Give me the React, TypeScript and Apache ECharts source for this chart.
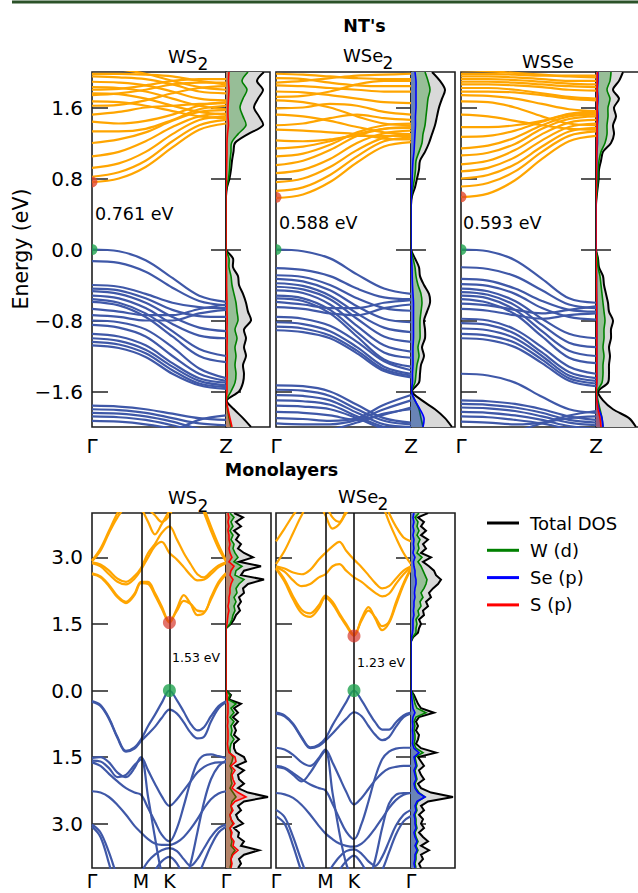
import React, { useEffect, useRef } from "react";
import * as echarts from "echarts";

// ---------------- k-paths & ticks ----------------
const ntK = [0, 0.2, 0.4, 0.6, 0.8, 1.0];
const ntPathTicks = [0, 1];
const ntPathLabels = ["Γ", "Z"];
const mlK = [0, 0.1, 0.2, 0.3, 0.4, 0.5, 0.577, 0.66, 0.74, 0.82, 0.911, 1.0, 1.08, 1.16, 1.24, 1.32, 1.4, 1.49, 1.577];
const mlPathTicks = [0, 0.577, 0.911, 1.577];
const mlPathLabels = ["Γ", "M", "K", "Γ"];
const ntEnergyTicks = [-1.6, -0.8, 0, 0.8, 1.6];
const mlEnergyTicks = [-3, -1.5, 0, 1.5, 3];

const ntGaps = [0.761, 0.588, 0.593];
const mlGaps = [1.53, 1.23];
const ntTitles = ["WS2", "WSe2", "WSSe"];
const mlTitles = ["WS2", "WSe2"];
const legendNames = ["Total DOS", "W (d)", "Se (p)", "S (p)"];

// ---------------- NT band structures (E in eV at ntK) ----------------
const ws2NtCond = [
  [0.76, 0.8, 0.93, 1.15, 1.35, 1.42],
  [0.82, 0.87, 1.0, 1.22, 1.4, 1.46],
  [0.92, 0.97, 1.1, 1.3, 1.46, 1.5],
  [1.05, 1.1, 1.22, 1.38, 1.5, 1.53],
  [1.2, 1.24, 1.32, 1.45, 1.55, 1.57],
  [1.33, 1.33, 1.36, 1.46, 1.58, 1.62],
  [1.44, 1.42, 1.45, 1.52, 1.62, 1.66],
  [1.52, 1.55, 1.6, 1.62, 1.64, 1.65],
  [1.67, 1.66, 1.62, 1.56, 1.5, 1.48],
  [1.76, 1.75, 1.7, 1.62, 1.55, 1.52],
  [1.83, 1.82, 1.78, 1.7, 1.62, 1.58],
  [1.89, 1.88, 1.85, 1.78, 1.7, 1.68],
  [1.95, 1.94, 1.92, 1.86, 1.78, 1.76],
  [1.8, 1.81, 1.85, 1.9, 1.92, 1.92],
  [1.74, 1.76, 1.8, 1.86, 1.88, 1.88],
  [1.98, 1.98, 1.97, 1.95, 1.9, 1.86],
  [1.62, 1.63, 1.68, 1.76, 1.82, 1.84],
  [2.05, 2.03, 1.98, 1.9, 1.83, 1.8],
];
const ws2NtVal = [
  [0.0, -0.02, -0.12, -0.32, -0.52, -0.59],
  [-0.13, -0.15, -0.25, -0.43, -0.58, -0.63],
  [-0.4, -0.42, -0.5, -0.6, -0.65, -0.66],
  [-0.44, -0.46, -0.55, -0.68, -0.75, -0.76],
  [-0.47, -0.5, -0.6, -0.76, -0.88, -0.92],
  [-0.52, -0.55, -0.66, -0.84, -0.97, -1.0],
  [-0.56, -0.6, -0.72, -0.92, -1.12, -1.2],
  [-0.59, -0.63, -0.76, -0.98, -1.2, -1.27],
  [-0.67, -0.7, -0.74, -0.74, -0.67, -0.62],
  [-0.74, -0.76, -0.8, -0.8, -0.72, -0.68],
  [-0.8, -0.82, -0.9, -1.1, -1.34, -1.45],
  [-0.85, -0.88, -0.98, -1.2, -1.4, -1.48],
  [-0.95, -0.98, -1.08, -1.28, -1.45, -1.5],
  [-1.0, -1.03, -1.13, -1.32, -1.48, -1.53],
  [-1.04, -1.07, -1.17, -1.36, -1.51, -1.55],
  [-1.08, -1.11, -1.21, -1.4, -1.53, -1.57],
  [-1.76, -1.77, -1.8, -1.85, -1.9, -1.92],
  [-1.8, -1.81, -1.84, -1.9, -1.96, -1.98],
  [-1.84, -1.85, -1.88, -1.94, -2.02, -2.05],
  [-1.88, -1.89, -1.92, -1.98, -2.05, -2.1],
  [-1.93, -1.94, -1.97, -2.02, -2.1, -2.15],
  [-2.2, -2.2, -2.15, -2.05, -1.92, -1.87],
];
const wse2NtCond = [
  [0.58, 0.62, 0.76, 0.98, 1.16, 1.21],
  [0.66, 0.7, 0.84, 1.05, 1.22, 1.26],
  [0.76, 0.8, 0.93, 1.12, 1.26, 1.3],
  [0.86, 0.9, 1.02, 1.2, 1.31, 1.34],
  [0.95, 1.0, 1.12, 1.28, 1.36, 1.38],
  [1.05, 1.08, 1.18, 1.32, 1.4, 1.42],
  [1.14, 1.16, 1.22, 1.3, 1.36, 1.37],
  [1.23, 1.22, 1.24, 1.28, 1.28, 1.28],
  [1.35, 1.34, 1.32, 1.3, 1.25, 1.24],
  [1.4, 1.42, 1.48, 1.52, 1.48, 1.46],
  [1.52, 1.5, 1.45, 1.38, 1.32, 1.3],
  [1.59, 1.6, 1.64, 1.62, 1.55, 1.52],
  [1.68, 1.66, 1.6, 1.5, 1.42, 1.4],
  [1.78, 1.77, 1.74, 1.7, 1.66, 1.65],
  [1.85, 1.84, 1.82, 1.8, 1.78, 1.78],
  [1.93, 1.92, 1.88, 1.85, 1.84, 1.84],
  [1.98, 1.97, 1.95, 1.93, 1.92, 1.92],
  [1.88, 1.9, 1.93, 1.96, 1.97, 1.98],
  [1.72, 1.73, 1.78, 1.86, 1.9, 1.9],
];
const wse2NtVal = [
  [0.0, -0.02, -0.1, -0.28, -0.44, -0.5],
  [-0.21, -0.23, -0.3, -0.44, -0.54, -0.56],
  [-0.29, -0.31, -0.4, -0.55, -0.66, -0.69],
  [-0.33, -0.36, -0.46, -0.64, -0.78, -0.82],
  [-0.38, -0.41, -0.52, -0.72, -0.88, -0.93],
  [-0.42, -0.45, -0.56, -0.78, -0.98, -1.04],
  [-0.46, -0.49, -0.62, -0.86, -1.08, -1.15],
  [-0.52, -0.55, -0.68, -0.93, -1.16, -1.22],
  [-0.55, -0.58, -0.72, -0.98, -1.24, -1.32],
  [-0.59, -0.62, -0.66, -0.66, -0.6, -0.57],
  [-0.65, -0.67, -0.72, -0.74, -0.66, -0.62],
  [-0.76, -0.78, -0.86, -1.04, -1.26, -1.36],
  [-0.82, -0.84, -0.92, -1.1, -1.32, -1.4],
  [-0.87, -0.89, -0.97, -1.14, -1.35, -1.42],
  [-0.91, -0.93, -1.0, -1.17, -1.37, -1.44],
  [-1.53, -1.54, -1.6, -1.75, -1.9, -1.95],
  [-1.58, -1.59, -1.65, -1.8, -1.93, -1.97],
  [-1.64, -1.65, -1.7, -1.84, -1.97, -2.0],
  [-1.7, -1.71, -1.75, -1.88, -2.0, -2.04],
  [-1.76, -1.77, -1.8, -1.9, -2.02, -2.06],
  [-1.83, -1.84, -1.87, -1.92, -1.86, -1.78],
  [-1.9, -1.91, -1.93, -1.9, -1.75, -1.64],
  [-1.96, -1.97, -1.97, -1.92, -1.8, -1.7],
  [-2.05, -2.06, -2.03, -1.95, -1.85, -1.8],
];
const wsseNtCond = [
  [0.59, 0.63, 0.78, 1.02, 1.22, 1.28],
  [0.71, 0.75, 0.88, 1.1, 1.28, 1.33],
  [0.8, 0.84, 0.96, 1.16, 1.33, 1.37],
  [0.88, 0.92, 1.04, 1.23, 1.38, 1.42],
  [0.96, 1.0, 1.12, 1.3, 1.43, 1.46],
  [1.06, 1.09, 1.19, 1.36, 1.47, 1.5],
  [1.14, 1.17, 1.26, 1.4, 1.5, 1.52],
  [1.27, 1.28, 1.34, 1.44, 1.52, 1.54],
  [1.38, 1.38, 1.4, 1.45, 1.53, 1.56],
  [1.52, 1.5, 1.45, 1.4, 1.36, 1.35],
  [1.67, 1.66, 1.6, 1.5, 1.42, 1.4],
  [1.74, 1.73, 1.7, 1.64, 1.58, 1.56],
  [1.82, 1.82, 1.8, 1.76, 1.72, 1.7],
  [1.89, 1.89, 1.88, 1.86, 1.84, 1.83],
  [1.95, 1.95, 1.94, 1.92, 1.9, 1.9],
  [1.98, 1.98, 1.97, 1.96, 1.96, 1.96],
  [1.86, 1.86, 1.85, 1.83, 1.8, 1.79],
  [1.78, 1.78, 1.77, 1.74, 1.7, 1.68],
  [1.92, 1.92, 1.91, 1.89, 1.87, 1.86],
  [2.02, 2.01, 1.99, 1.97, 1.95, 1.94],
];
const wsseNtVal = [
  [0.0, -0.02, -0.12, -0.33, -0.55, -0.6],
  [-0.2, -0.22, -0.3, -0.46, -0.62, -0.66],
  [-0.33, -0.35, -0.44, -0.58, -0.68, -0.7],
  [-0.39, -0.41, -0.5, -0.66, -0.76, -0.79],
  [-0.44, -0.47, -0.58, -0.78, -0.95, -1.0],
  [-0.48, -0.51, -0.63, -0.85, -1.05, -1.1],
  [-0.52, -0.55, -0.68, -0.92, -1.14, -1.2],
  [-0.56, -0.6, -0.73, -0.98, -1.22, -1.28],
  [-0.61, -0.63, -0.68, -0.72, -0.68, -0.64],
  [-0.67, -0.69, -0.74, -0.78, -0.74, -0.72],
  [-0.78, -0.8, -0.9, -1.1, -1.32, -1.4],
  [-0.83, -0.85, -0.95, -1.16, -1.38, -1.45],
  [-0.89, -0.91, -1.0, -1.2, -1.42, -1.48],
  [-0.95, -0.97, -1.05, -1.24, -1.45, -1.51],
  [-1.0, -1.02, -1.1, -1.28, -1.48, -1.54],
  [-1.4, -1.42, -1.5, -1.66, -1.8, -1.84],
  [-1.7, -1.71, -1.74, -1.8, -1.88, -1.92],
  [-1.74, -1.75, -1.78, -1.84, -1.92, -1.95],
  [-1.78, -1.79, -1.82, -1.88, -1.95, -1.98],
  [-1.83, -1.84, -1.87, -1.92, -1.99, -2.02],
  [-1.88, -1.89, -1.92, -1.96, -2.02, -2.05],
  [-1.94, -1.95, -1.97, -1.95, -1.87, -1.82],
  [-2.1, -2.1, -2.05, -1.96, -1.9, -1.88],
];

// ---------------- Monolayer band structures (E in eV at mlK) ----------------
const ws2MlCond = [
  [2.62, 2.55, 2.35, 2.1, 1.97, 2.15, 2.42, 2.4, 2.15, 1.85, 1.53, 1.85, 2.15, 1.95, 1.7, 1.75, 2.05, 2.4, 2.62],
  [2.64, 2.57, 2.38, 2.13, 2.0, 2.18, 2.45, 2.45, 2.2, 1.9, 1.56, 1.8, 2.02, 1.95, 1.8, 1.78, 2.1, 2.45, 2.65],
  [2.87, 2.8, 2.62, 2.45, 2.39, 2.52, 2.72, 3.0, 3.25, 3.35, 3.1, 2.95, 2.78, 2.6, 2.48, 2.5, 2.62, 2.78, 2.87],
  [2.89, 2.84, 2.7, 2.52, 2.45, 2.58, 2.76, 3.1, 3.3, 3.55, 3.7, 3.4, 3.1, 2.85, 2.62, 2.55, 2.68, 2.82, 2.89],
  [2.91, 3.15, 3.55, 3.9, 4.15, 4.2, 4.1, 3.8, 3.52, 3.75, 4.05, 4.3, 4.5, 4.6, 4.4, 4.0, 3.6, 3.2, 2.91],
  [2.93, 3.2, 3.6, 4.0, 4.3, 4.4, 4.3, 4.1, 3.95, 3.8, 3.95, 4.35, 4.6, 4.7, 4.5, 4.1, 3.7, 3.28, 2.93],
];
const ws2MlVal = [
  [-0.24, -0.33, -0.62, -1.05, -1.36, -1.28, -1.1, -0.8, -0.55, -0.28, 0.0, -0.22, -0.48, -0.75, -0.9, -0.82, -0.58, -0.35, -0.24],
  [-0.26, -0.35, -0.64, -1.07, -1.38, -1.31, -1.14, -0.98, -0.82, -0.62, -0.43, -0.52, -0.72, -0.95, -1.08, -1.04, -0.7, -0.4, -0.26],
  [-1.52, -1.5, -1.62, -1.85, -1.95, -1.75, -1.5, -1.8, -2.1, -2.38, -2.6, -2.45, -2.25, -2.05, -1.85, -1.72, -1.65, -1.62, -1.62],
  [-1.62, -1.7, -1.88, -2.05, -2.2, -2.3, -2.35, -2.65, -2.95, -3.25, -3.4, -3.1, -2.6, -2.05, -1.62, -1.46, -1.44, -1.48, -1.52],
  [-2.27, -2.3, -2.4, -2.58, -2.8, -3.05, -3.2, -3.35, -3.45, -3.48, -3.48, -3.42, -3.3, -3.12, -2.9, -2.65, -2.45, -2.32, -2.27],
  [-3.02, -3.2, -3.65, -4.2, -4.6, -4.4, -4.1, -3.85, -3.7, -3.6, -3.55, -3.62, -3.8, -3.95, -3.8, -3.55, -3.3, -3.1, -3.02],
  [-3.07, -3.3, -3.9, -4.6, -5.0, -4.8, -4.5, -4.25, -4.05, -3.85, -3.75, -3.9, -4.2, -4.4, -4.2, -3.85, -3.5, -3.2, -3.07],
  [-1.58, -1.6, -1.75, -1.95, -1.9, -1.68, -1.55, -2.4, -3.3, -4.1, -4.5, -4.6, -4.4, -3.9, -3.2, -2.5, -2.0, -1.7, -1.58],
];
const wse2MlCond = [
  [2.74, 2.45, 2.05, 1.74, 1.66, 1.85, 2.09, 1.95, 1.7, 1.46, 1.23, 1.62, 1.88, 1.62, 1.36, 1.52, 1.92, 2.38, 2.74],
  [2.76, 2.5, 2.12, 1.82, 1.74, 1.92, 2.14, 2.0, 1.74, 1.5, 1.26, 1.58, 1.8, 1.65, 1.45, 1.55, 1.98, 2.42, 2.76],
  [2.78, 2.68, 2.48, 2.35, 2.4, 2.55, 2.62, 2.8, 2.85, 2.7, 2.55, 2.45, 2.32, 2.2, 2.12, 2.18, 2.4, 2.62, 2.78],
  [2.8, 2.75, 2.66, 2.62, 2.72, 2.95, 3.1, 3.25, 3.35, 3.15, 2.95, 2.78, 2.6, 2.42, 2.3, 2.35, 2.52, 2.7, 2.8],
  [2.85, 3.15, 3.55, 3.95, 4.25, 4.2, 3.95, 3.65, 3.75, 4.0, 4.2, 4.4, 4.55, 4.5, 4.2, 3.8, 3.45, 3.1, 2.85],
  [3.36, 3.65, 3.95, 4.2, 4.4, 4.4, 4.2, 3.9, 3.8, 4.05, 4.3, 4.6, 4.7, 4.6, 4.35, 4.0, 3.7, 3.45, 3.36],
];
const wse2MlVal = [
  [-0.5, -0.56, -0.75, -1.05, -1.28, -1.22, -1.08, -0.78, -0.52, -0.26, 0.0, -0.22, -0.48, -0.72, -0.88, -0.88, -0.72, -0.56, -0.5],
  [-0.52, -0.58, -0.77, -1.07, -1.3, -1.25, -1.13, -0.97, -0.8, -0.64, -0.49, -0.58, -0.8, -1.0, -1.12, -1.05, -0.82, -0.6, -0.52],
  [-1.29, -1.33, -1.45, -1.62, -1.7, -1.52, -1.33, -1.62, -1.95, -2.28, -2.57, -2.42, -2.22, -2.02, -1.86, -1.76, -1.72, -1.7, -1.7],
  [-1.7, -1.74, -1.86, -2.0, -2.12, -2.2, -2.25, -2.55, -2.88, -3.18, -3.35, -3.0, -2.5, -1.95, -1.55, -1.38, -1.31, -1.29, -1.29],
  [-2.31, -2.34, -2.42, -2.58, -2.8, -3.05, -3.22, -3.35, -3.45, -3.5, -3.52, -3.45, -3.3, -3.1, -2.88, -2.65, -2.47, -2.35, -2.31],
  [-2.69, -2.85, -3.3, -3.85, -4.3, -4.4, -4.2, -3.95, -3.75, -3.62, -3.58, -3.68, -3.85, -3.95, -3.75, -3.4, -3.05, -2.8, -2.69],
  [-2.83, -3.0, -3.5, -4.1, -4.6, -4.8, -4.6, -4.3, -4.05, -3.85, -3.72, -3.9, -4.15, -4.3, -4.05, -3.65, -3.25, -2.95, -2.83],
  [-1.72, -1.76, -1.9, -2.05, -1.85, -1.55, -1.36, -2.3, -3.2, -3.9, -4.3, -4.5, -4.3, -3.8, -3.1, -2.55, -2.35, -2.31, -2.31],
];

// ---------------- DOS (energy grids + curves, arbitrary units) ----------------
const ntE = [-2.0, -1.9, -1.8, -1.7, -1.6, -1.5, -1.4, -1.3, -1.2, -1.1, -1.0, -0.9, -0.8, -0.7, -0.6, -0.5, -0.4, -0.3, -0.2, -0.1, 0.0, 0.1, 0.2, 0.3, 0.4, 0.5, 0.6, 0.7, 0.8, 0.9, 1.0, 1.1, 1.2, 1.3, 1.4, 1.5, 1.6, 1.7, 1.8, 1.9, 2.0];
const ws2NtTotal = [25, 17, 8, 0.7, 13, 17, 18, 17, 20, 18, 20, 18, 25, 22, 20, 17, 13, 12, 7, 7, 0, 0, 0, 0, 0, 0, 0, 1, 3.5, 5, 6, 7.5, 9, 22, 37, 33, 28, 32, 37, 31, 38];
const ws2NtW = [5, 3, 1.5, 0.3, 5, 9, 10, 9, 10, 9, 11, 9, 12, 11, 10, 8, 6, 5, 3, 3, 0, 0, 0, 0, 0, 0, 0, 0.7, 2.5, 3.5, 4, 5, 5.5, 12, 20, 17, 14, 17, 21, 16, 22];
const ws2NtS = [6, 4, 2, 0.3, 1, 1, 1.2, 1, 1.2, 1, 1.2, 1, 1.2, 1, 1, 0.8, 0.6, 0.6, 0.4, 0.4, 0, 0, 0, 0, 0, 0, 0, 0.3, 0.5, 0.6, 0.8, 1, 1, 1.5, 2.5, 2, 2, 2.5, 3, 2.5, 3];
const wse2NtTotal = [41, 34, 24, 11, 1, 8, 9, 10, 13, 11, 14, 14, 13, 16, 19, 18, 13, 9, 8, 4, 0, 0, 0, 0, 0, 0, 1, 4, 6, 8, 9, 14, 18, 21, 24, 26, 28, 31, 34, 29, 21];
const wse2NtW = [12, 10, 8, 4, 0.5, 4, 5, 6, 8, 7, 9, 9, 9, 10, 11, 10, 7, 5, 4, 2, 0, 0, 0, 0, 0, 0, 0.5, 2, 3.5, 4.5, 5, 8, 11, 12, 14, 15, 16, 17, 19, 17, 14];
const wse2NtSe = [12, 13, 9, 4, 0.5, 1.5, 1.5, 2, 2, 2, 2.5, 2.5, 2.5, 2.5, 2.5, 2, 1.5, 1.2, 1, 0.5, 0, 0, 0, 0, 0, 0, 0.3, 0.8, 1.2, 1.5, 2, 3, 3.5, 4, 4.5, 4.5, 5, 5, 5, 5, 4];
const wsseNtTotal = [40, 33, 17, 7, 2, 12, 13, 13, 14, 13, 15, 15, 17, 13, 12, 10, 8, 7, 3, 2, 0, 0, 0, 0, 0, 0, 0.7, 1.7, 2.7, 3, 5, 7, 15, 18, 17, 20, 18, 23, 17, 23, 27];
const wsseNtW = [7, 6, 4, 2, 1, 6, 7, 7, 8, 7, 8, 8, 9, 8, 7, 6, 5, 4, 2, 1.5, 0, 0, 0, 0, 0, 0, 0.5, 1.3, 2, 2.2, 3, 5, 9, 11, 11, 12, 12, 14, 11, 14, 15];
const wsseNtSe = [7, 6, 3, 1, 0.3, 0.8, 0.8, 0.8, 0.8, 0.8, 0.8, 0.8, 0.8, 0.8, 0.7, 0.6, 0.5, 0.5, 0.3, 0.2, 0, 0, 0, 0, 0, 0, 0.2, 0.4, 0.5, 0.6, 0.8, 1, 1.5, 1.5, 1.5, 2, 1.5, 2, 1.5, 2, 2];
const wsseNtS = [5, 4, 2, 0.8, 0.3, 0.8, 0.8, 0.8, 0.8, 0.8, 0.8, 0.8, 0.8, 0.7, 0.7, 0.6, 0.5, 0.5, 0.3, 0.2, 0, 0, 0, 0, 0, 0, 0.2, 0.3, 0.4, 0.5, 0.6, 0.8, 1, 1.2, 1.2, 1.3, 1.2, 1.4, 1.2, 1.4, 1.5];

const mlE = [-4.0, -3.9, -3.8, -3.7, -3.6, -3.5, -3.4, -3.3, -3.2, -3.1, -3.0, -2.9, -2.8, -2.7, -2.6, -2.5, -2.4, -2.3, -2.2, -2.1, -2.0, -1.9, -1.8, -1.7, -1.6, -1.5, -1.4, -1.3, -1.2, -1.1, -1.0, -0.9, -0.8, -0.7, -0.6, -0.5, -0.4, -0.3, -0.2, -0.1, 0.0, 0.1, 0.2, 0.3, 0.4, 0.5, 0.6, 0.7, 0.8, 0.9, 1.0, 1.1, 1.2, 1.3, 1.4, 1.5, 1.6, 1.7, 1.8, 1.9, 2.0, 2.1, 2.2, 2.3, 2.4, 2.5, 2.6, 2.7, 2.8, 2.9, 3.0, 3.1, 3.2, 3.3, 3.4, 3.5, 3.6, 3.7, 3.8, 3.9, 4.0];
const ws2MlTotal = [12, 15, 13, 18, 33, 15, 18, 12, 13, 8, 17, 12, 10, 15, 12, 18, 42, 22, 12, 18, 13, 12, 18, 10, 20, 18, 10, 8, 8, 13, 8, 10, 8, 12, 7, 12, 8, 15, 3, 5, 0, 0, 0, 0, 0, 0, 0, 0, 0, 0, 0, 0, 0, 0, 0, 5, 8, 10, 14, 12, 15, 13, 18, 17, 22, 38, 15, 18, 35, 13, 27, 18, 12, 15, 10, 13, 8, 15, 10, 17, 8];
const ws2MlW = [4, 5, 5, 6, 9, 5, 6, 5, 5, 4, 7, 5, 4, 6, 5, 6, 10, 7, 4, 6, 5, 5, 6, 4, 6, 7, 4, 4, 5, 8, 5, 6, 5, 8, 4, 8, 5, 10, 2, 4, 0, 0, 0, 0, 0, 0, 0, 0, 0, 0, 0, 0, 0, 0, 0, 4, 6, 7, 9, 8, 10, 8, 11, 10, 13, 18, 9, 10, 16, 8, 12, 9, 7, 8, 5, 7, 4, 7, 5, 8, 4];
const ws2MlS = [5, 6, 5, 7, 12, 7, 8, 5, 6, 4, 8, 5, 4, 7, 5, 9, 20, 12, 6, 9, 7, 6, 9, 5, 10, 9, 3, 2, 1.5, 2, 2, 2, 1.5, 2, 1.5, 2, 2, 2, 1, 1, 0, 0, 0, 0, 0, 0, 0, 0, 0, 0, 0, 0, 0, 0, 0, 1, 1.5, 2, 3, 2, 3, 3, 4, 4, 5, 7, 4, 5, 8, 3, 6, 4, 3, 4, 3, 3, 2, 3, 2, 3, 2];
const wse2MlTotal = [10, 8, 12, 10, 18, 10, 17, 12, 8, 13, 10, 12, 8, 13, 10, 17, 42, 20, 10, 7, 13, 10, 8, 13, 10, 7, 25, 10, 5, 7, 8, 5, 7, 5, 8, 23, 10, 7, 5, 3, 0, 0, 0, 0, 0, 0, 0, 0, 0, 0, 0, 0, 2, 7, 8, 10, 8, 13, 12, 17, 15, 20, 18, 22, 27, 30, 25, 23, 18, 12, 20, 10, 15, 12, 17, 10, 15, 10, 13, 7, 17];
const wse2MlW = [5, 4, 5, 5, 7, 5, 7, 5, 4, 6, 5, 5, 4, 6, 5, 7, 14, 8, 5, 4, 6, 5, 4, 6, 5, 4, 12, 5, 3, 4, 4, 3, 4, 3, 5, 15, 6, 4, 3, 2, 0, 0, 0, 0, 0, 0, 0, 0, 0, 0, 0, 0, 1.5, 5, 5, 6, 5, 8, 7, 10, 9, 12, 10, 13, 15, 16, 14, 12, 10, 7, 11, 6, 8, 7, 9, 6, 8, 6, 7, 4, 8];
const wse2MlSe = [4, 3, 4, 4, 6, 4, 6, 4, 3, 5, 4, 4, 3, 5, 4, 6, 14, 7, 4, 3, 5, 4, 3, 5, 4, 3, 8, 3, 1.5, 2, 2, 1.5, 2, 1.5, 2, 4, 2, 1.5, 1, 0.5, 0, 0, 0, 0, 0, 0, 0, 0, 0, 0, 0, 0, 0.5, 1.5, 2, 2, 2, 3, 2.5, 3, 3, 4, 3.5, 4, 5, 5, 4, 4, 3, 2.5, 4, 2, 3, 2.5, 3, 2, 3, 2, 3, 2, 3];

// ---------------- styling ----------------
const FONT = '"DejaVu Sans", "Liberation Sans", sans-serif';
const ORANGE = "#ffa500";
const BLUE = "#3f58a8";
const TICK = "#222222";
const BORDER = "#1e1e1e";
const HALF_DISC = "path://M0,0 A10,10 0 0,1 0,20 Z";

export default function App() {
  const ref = useRef<HTMLDivElement | null>(null);

  useEffect(() => {
    if (!ref.current) return;
    const chart = echarts.init(ref.current, null, { renderer: "svg" });

    const grid: any[] = [];
    const xAxis: any[] = [];
    const yAxis: any[] = [];
    const series: any[] = [];

    const ntFmt = (v: number) => (v < -1e-9 ? "\u2212" : "") + Math.abs(v).toFixed(1);
    const mlFmt = (v: number) => Math.abs(v).toFixed(1);

    const addGrid = (left: number, top: number, width: number, height: number) => {
      grid.push({
        left, top, width, height, show: true, borderColor: BORDER, borderWidth: 1.6,
        backgroundColor: "rgba(0,0,0,0)", containLabel: false, outerBoundsMode: "none",
      });
      return grid.length - 1;
    };

    const dosSeries = (name: string, xi: number, yi: number, E: number[], vals: number[],
      stroke: string, fill: string, lw: number, z: number, smooth: number) => ({
      type: "custom", name, coordinateSystem: "cartesian2d", xAxisIndex: xi, yAxisIndex: yi,
      data: E.map((e, i) => [vals[i], e]), itemStyle: { color: stroke }, silent: true, clip: true, z,
      renderItem: (params: any, api: any) => {
        if (params.dataIndex !== 0) return null;
        const pts = E.map((e, i) => api.coord([vals[i], e]));
        const base = E.map((e) => api.coord([0, e])).reverse();
        return {
          type: "group",
          children: [
            { type: "polygon", shape: { points: pts.concat(base), smooth }, style: { fill, stroke: null } },
            { type: "polyline", shape: { points: pts, smooth }, style: { fill: null, stroke, lineWidth: lw } },
          ],
        };
      },
    });

    const addPanel = (p: any) => {
      const g = addGrid(p.bandLeft, p.top, p.bandWidth, p.height);
      xAxis.push({
        gridIndex: g, type: "value", min: 0, max: p.kMax,
        axisLine: { show: false }, axisTick: { show: false }, splitLine: { show: false },
        axisLabel: {
          show: true, customValues: p.pathTicks, fontSize: p.xFont, lineHeight: p.xFont, fontFamily: FONT, color: "#000", margin: p.xMargin,
          formatter: (v: number) => {
            let best = 0;
            p.pathTicks.forEach((t: number, i: number) => {
              if (Math.abs(t - v) < Math.abs(p.pathTicks[best] - v)) best = i;
            });
            return p.pathLabels[best];
          },
        },
      });
      const yb = yAxis.length;
      yAxis.push({
        gridIndex: g, type: "value", min: p.eMin, max: p.eMax, position: "left",
        axisLine: { show: false }, splitLine: { show: false },
        axisTick: { show: true, inside: true, length: 16, customValues: p.eTicks, lineStyle: { color: TICK, width: 1.5 } },
        axisLabel: { show: p.showLabels, customValues: p.eTicks, formatter: p.fmt, fontSize: 20, fontFamily: FONT, color: "#000", margin: 9 },
      });
      p.cond.forEach((b: number[]) => series.push({
        type: "line", xAxisIndex: g, yAxisIndex: yb, data: b.map((e, j) => [p.k[j], e]),
        smooth: 0.35, symbol: "none", showSymbol: false, silent: true, clip: true, z: 2,
        lineStyle: { color: ORANGE, width: 2.2 },
      }));
      p.val.forEach((b: number[]) => series.push({
        type: "line", xAxisIndex: g, yAxisIndex: yb, data: b.map((e, j) => [p.k[j], e]),
        smooth: 0.35, symbol: "none", showSymbol: false, silent: true, clip: true, z: 2,
        lineStyle: { color: BLUE, width: 2.2 },
      }));
      const dotSym = p.halfDot ? HALF_DISC : "circle";
      const dotSize = p.halfDot ? [p.dot / 2, p.dot] : p.dot;
      const dotOff = p.halfDot ? [p.dot / 4, 0] : [0, 0];
      series.push({
        type: "scatter", xAxisIndex: g, yAxisIndex: yb, data: [[p.kExt, 0]],
        symbol: dotSym, symbolSize: dotSize, symbolOffset: dotOff,
        itemStyle: { color: "#1fa24f" }, silent: true, clip: true, z: 6,
        markLine: p.marks ? {
          symbol: ["none", "none"], silent: true, label: { show: false },
          lineStyle: { color: "#111", width: 1.6, type: "solid" },
          data: p.marks.map((m: number) => ({ xAxis: m })),
        } : undefined,
      });
      series.push({
        type: "scatter", xAxisIndex: g, yAxisIndex: yb, data: [[p.kExt, p.gap]],
        symbol: dotSym, symbolSize: dotSize, symbolOffset: dotOff,
        itemStyle: { color: p.redDot }, silent: true, clip: true, z: 6,
      });

      const d = addGrid(p.dosLeft, p.top, p.dosWidth, p.height);
      xAxis.push({ gridIndex: d, type: "value", min: 0, max: p.dosWidth, show: false });
      const yd = yAxis.length;
      [false, true].forEach((inside) => yAxis.push({
        gridIndex: d, type: "value", min: p.eMin, max: p.eMax, position: "left",
        axisLine: { show: false }, splitLine: { show: false }, axisLabel: { show: false },
        axisTick: { show: true, inside, length: 15, customValues: p.eTicks, lineStyle: { color: TICK, width: 1.5 } },
      }));
      series.push(dosSeries(legendNames[0], d, yd, p.E, p.total, "#000000", "#d9d9d9", 2, 3, p.smooth));
      series.push(dosSeries(legendNames[1], d, yd, p.E, p.w, "#008000", "rgba(0,128,0,0.3)", 1.6, 4, p.smooth));
      if (p.se) series.push(dosSeries(legendNames[2], d, yd, p.E, p.se, "#0000ff", "rgba(0,0,255,0.3)", 1.6, 5, p.smooth));
      if (p.s) series.push(dosSeries(legendNames[3], d, yd, p.E, p.s, "#ff0000", "rgba(255,0,0,0.3)", 1.6, 6, p.smooth));
    };

    const ntCommon = {
      top: 72, height: 355, eMin: -2, eMax: 2, eTicks: ntEnergyTicks, fmt: ntFmt, k: ntK, kMax: 1,
      pathTicks: ntPathTicks, pathLabels: ntPathLabels, xMargin: 9, xFont: 20, kExt: 0, dot: 11, halfDot: true,
      E: ntE, smooth: 0.3, redDot: "#e2472b", dosWidth: 44,
    };
    addPanel({ ...ntCommon, bandLeft: 92, bandWidth: 134, dosLeft: 226, cond: ws2NtCond, val: ws2NtVal, gap: ntGaps[0], showLabels: true, total: ws2NtTotal, w: ws2NtW, s: ws2NtS });
    addPanel({ ...ntCommon, bandLeft: 276, bandWidth: 135, dosLeft: 411, cond: wse2NtCond, val: wse2NtVal, gap: ntGaps[1], showLabels: false, total: wse2NtTotal, w: wse2NtW, se: wse2NtSe });
    addPanel({ ...ntCommon, bandLeft: 461, bandWidth: 135, dosLeft: 596, cond: wsseNtCond, val: wsseNtVal, gap: ntGaps[2], showLabels: false, total: wsseNtTotal, w: wsseNtW, se: wsseNtSe, s: wsseNtS });

    const mlCommon = {
      top: 513, height: 355, eMin: -4, eMax: 4, eTicks: mlEnergyTicks, fmt: mlFmt, k: mlK, kMax: 1.577,
      pathTicks: mlPathTicks, pathLabels: mlPathLabels, xMargin: 3, xFont: 19, kExt: 0.911, dot: 13, halfDot: false,
      E: mlE, smooth: 0, redDot: "rgba(214,48,36,0.85)", marks: [0.577, 0.911],
    };
    addPanel({ ...mlCommon, bandLeft: 92, bandWidth: 134, dosLeft: 226, dosWidth: 45, cond: ws2MlCond, val: ws2MlVal, gap: mlGaps[0], showLabels: true, total: ws2MlTotal, w: ws2MlW, s: ws2MlS });
    addPanel({ ...mlCommon, bandLeft: 276, bandWidth: 135, dosLeft: 411, dosWidth: 44, cond: wse2MlCond, val: wse2MlVal, gap: mlGaps[1], showLabels: false, total: wse2MlTotal, w: wse2MlW, se: wse2MlSe });

    const txt = (text: string, x: number, y: number, size: number, opts: any = {}) => ({
      type: "text", x, y, silent: true, rotation: opts.rotation || 0,
      style: {
        text, fill: "#000", fontSize: size, fontFamily: FONT, fontWeight: opts.bold ? "bold" : "normal",
        align: opts.align || "left", verticalAlign: "middle",
      },
    });
    const title = (t: string, x: number, y: number, size: number) => {
      const m = t.match(/^(.*?)(\d)$/);
      if (!m) return [txt(t, x, y, size)];
      const mainW = m[1] === "WS" ? 29.5 : 39.5;
      return [txt(m[1], x, y, size), txt(m[2], x + mainW, y + 8, size - 1)];
    };

    const graphic: any[] = [
      { type: "line", silent: true, shape: { x1: 12, y1: 2, x2: 638, y2: 2 }, style: { stroke: "#2b5229", lineWidth: 3 } },
      txt("NT's", 364.5, 26, 17.5, { bold: true, align: "center" }),
      txt("Monolayers", 281.5, 470, 17.5, { bold: true, align: "center" }),
      txt("Energy (eV)", 21, 249, 20.5, { align: "center", rotation: Math.PI / 2 }),
      ...title(ntTitles[0], 168, 56, 18),
      ...title(ntTitles[1], 343, 55, 18),
      ...title(ntTitles[2], 522, 61.5, 18),
      ...title(mlTitles[0], 168, 497.5, 18),
      ...title(mlTitles[1], 338, 496, 18),
      txt(ntGaps[0].toFixed(3) + " eV", 95, 213.5, 17.5),
      txt(ntGaps[1].toFixed(3) + " eV", 279, 223, 17.5),
      txt(ntGaps[2].toFixed(3) + " eV", 463, 223, 17.5),
      txt(mlGaps[0].toFixed(2) + " eV", 172, 657.5, 12.5),
      txt(mlGaps[1].toFixed(2) + " eV", 357, 662.5, 12.5),
    ];

    chart.setOption({
      animation: false,
      backgroundColor: "#ffffff",
      textStyle: { fontFamily: FONT },
      grid, xAxis, yAxis, series, graphic,
      legend: {
        show: true, orient: "vertical", left: 482, top: 509, icon: "rect",
        itemWidth: 32, itemHeight: 3, itemGap: 9.3, selectedMode: false,
        data: legendNames,
        formatter: (n: string) => "{t|" + n + "}",
        textStyle: { rich: { t: { fontSize: 18, fontFamily: FONT, color: "#000", lineHeight: 20, padding: [0, 0, 0, 6] } } },
      },
    });

    return () => chart.dispose();
  }, []);

  return (
    <div
      ref={ref}
      style={{ position: "absolute", left: 0, top: 0, width: 638, height: 893, background: "#fff" }}
    />
  );
}
